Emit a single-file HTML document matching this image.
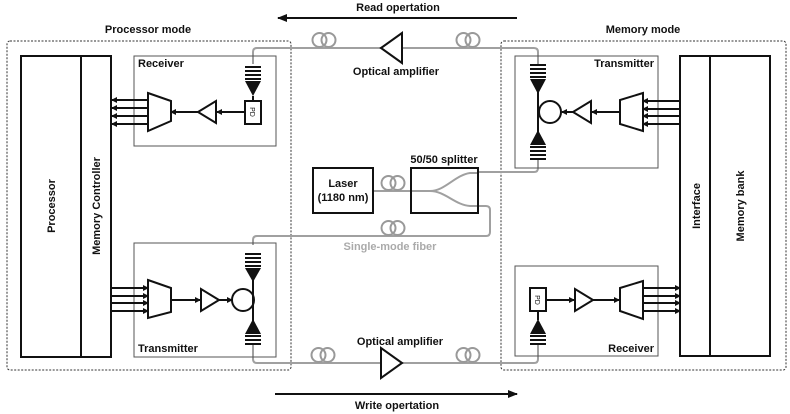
<!DOCTYPE html>
<html><head><meta charset="utf-8"><style>
html,body{margin:0;padding:0;background:#fff}
svg{display:block}
text{font-family:"Liberation Sans",Arial,sans-serif;font-weight:bold;font-size:11px;fill:#111}
</style></head><body>
<svg width="790" height="414" viewBox="0 0 790 414" xmlns="http://www.w3.org/2000/svg">
<defs>
<marker id="ah" markerWidth="6" markerHeight="6" refX="5" refY="3" orient="auto" markerUnits="userSpaceOnUse"><path d="M0,0 L6,3 L0,6 Z" fill="#111"/></marker>
<marker id="bh" markerWidth="10" markerHeight="8" refX="9" refY="4" orient="auto" markerUnits="userSpaceOnUse"><path d="M0,0 L10,4 L0,8 Z" fill="#111"/></marker>
<g id="coil" fill="none" stroke="#999" stroke-width="2"><circle cx="-4.5" cy="0" r="7"/><circle cx="4.5" cy="0" r="7"/></g>
</defs>

<text x="398" y="11" text-anchor="middle">Read opertation</text>
<line x1="517" y1="18" x2="278" y2="18" stroke="#111" stroke-width="2" marker-end="url(#bh)"/>
<text x="397" y="409" text-anchor="middle">Write opertation</text>
<line x1="275" y1="394" x2="517" y2="394" stroke="#111" stroke-width="2" marker-end="url(#bh)"/>

<rect x="7" y="41" width="284" height="329" rx="3" fill="none" stroke="#333" stroke-width="1" stroke-dasharray="2,1.5"/>
<rect x="501" y="41" width="285" height="329" rx="3" fill="none" stroke="#333" stroke-width="1" stroke-dasharray="2,1.5"/>
<text x="148" y="33" text-anchor="middle">Processor mode</text>
<text x="643" y="33" text-anchor="middle">Memory mode</text>

<g fill="none" stroke="#a0a0a0" stroke-width="2">
<path d="M253,64 V52 Q253,48 257,48 H534 Q538,48 538,52 V64"/>
<path d="M253,345 V359 Q253,363 257,363 H534 Q538,363 538,359 V345"/>
<path d="M253,245 V240 Q253,236 257,236 H486 Q490,236 490,232 V210 Q490,206 486,206 H478"/>
<path d="M538,160 V168 Q538,172 534,172 H478"/>
<path d="M373,191 H430 C445,191 455,175 470,173 L478,173"/>
<path d="M430,191 C445,191 455,205 470,206 L478,206"/>
</g>
<use href="#coil" x="324" y="40"/>
<use href="#coil" x="468" y="40"/>
<use href="#coil" x="323" y="355"/>
<use href="#coil" x="468" y="355"/>
<use href="#coil" x="393" y="183"/>
<use href="#coil" x="393" y="228"/>

<path d="M381,48 L402,33 L402,63 Z" fill="#fff" stroke="#111" stroke-width="2"/>
<text x="396" y="75" text-anchor="middle">Optical amplifier</text>
<path d="M402,363 L381,348 L381,378 Z" fill="#fff" stroke="#111" stroke-width="2"/>
<text x="400" y="345" text-anchor="middle">Optical amplifier</text>

<rect x="313" y="168" width="60" height="45" fill="none" stroke="#111" stroke-width="2"/>
<text x="343" y="187" text-anchor="middle">Laser</text>
<text x="343" y="201" text-anchor="middle">(1180 nm)</text>
<rect x="411" y="168" width="67" height="45" fill="none" stroke="#111" stroke-width="2"/>
<text x="444" y="163" text-anchor="middle">50/50 splitter</text>
<text x="390" y="250" text-anchor="middle" style="fill:#aaa">Single-mode fiber</text>

<rect x="21" y="56" width="90" height="301" fill="#fff" stroke="#111" stroke-width="2"/>
<line x1="81" y1="56" x2="81" y2="357" stroke="#111" stroke-width="2"/>
<text transform="translate(55,206) rotate(-90)" text-anchor="middle">Processor</text>
<text transform="translate(100,206) rotate(-90)" text-anchor="middle">Memory Controller</text>

<rect x="680" y="56" width="90" height="300" fill="#fff" stroke="#111" stroke-width="2"/>
<line x1="710" y1="56" x2="710" y2="356" stroke="#111" stroke-width="2"/>
<text transform="translate(700,206) rotate(-90)" text-anchor="middle">Interface</text>
<text transform="translate(744,206) rotate(-90)" text-anchor="middle">Memory bank</text>

<g stroke="#111" stroke-width="2" fill="none">
<rect x="134" y="56" width="142" height="90" stroke="#555" stroke-width="1"/>
<rect x="245" y="101" width="16" height="23" fill="#fff"/>
<line x1="253" y1="96" x2="253" y2="101"/>
<line x1="245" y1="112" x2="217" y2="112" marker-end="url(#ah)"/>
<path d="M198,112 L216,101 L216,123 Z" fill="#fff"/>
<line x1="198" y1="112" x2="171" y2="112" marker-end="url(#ah)"/>
<path d="M148,93 L171,101 L171,121 L148,131 Z" fill="#fff"/>
<line x1="148" y1="100" x2="112" y2="100" marker-end="url(#ah)"/>
<line x1="148" y1="108" x2="112" y2="108" marker-end="url(#ah)"/>
<line x1="148" y1="116" x2="112" y2="116" marker-end="url(#ah)"/>
<line x1="148" y1="124" x2="112" y2="124" marker-end="url(#ah)"/>

<rect x="134" y="243" width="142" height="114" stroke="#555" stroke-width="1"/>
<line x1="112" y1="288" x2="148" y2="288" marker-end="url(#ah)"/>
<line x1="112" y1="296" x2="148" y2="296" marker-end="url(#ah)"/>
<line x1="112" y1="303" x2="148" y2="303" marker-end="url(#ah)"/>
<line x1="112" y1="311" x2="148" y2="311" marker-end="url(#ah)"/>
<path d="M148,280 L171,288 L171,312 L148,318 Z" fill="#fff"/>
<line x1="171" y1="300" x2="200" y2="300" marker-end="url(#ah)"/>
<path d="M219,300 L201,289 L201,311 Z" fill="#fff"/>
<line x1="219" y1="300" x2="232" y2="300" marker-end="url(#ah)"/>
<circle cx="243" cy="300" r="11" fill="#fff"/>
<line x1="253" y1="275" x2="253" y2="325"/>

<rect x="515" y="56" width="143" height="112" stroke="#555" stroke-width="1"/>
<line x1="680" y1="101" x2="643" y2="101" marker-end="url(#ah)"/>
<line x1="680" y1="109" x2="643" y2="109" marker-end="url(#ah)"/>
<line x1="680" y1="116" x2="643" y2="116" marker-end="url(#ah)"/>
<line x1="680" y1="124" x2="643" y2="124" marker-end="url(#ah)"/>
<path d="M643,93 L620,100 L620,124 L643,131 Z" fill="#fff"/>
<line x1="620" y1="112" x2="592" y2="112" marker-end="url(#ah)"/>
<path d="M573,112 L591,101 L591,123 Z" fill="#fff"/>
<line x1="573" y1="112" x2="562" y2="112" marker-end="url(#ah)"/>
<circle cx="550" cy="112" r="11" fill="#fff"/>
<line x1="538" y1="88" x2="538" y2="136"/>

<rect x="515" y="266" width="143" height="90" stroke="#555" stroke-width="1"/>
<rect x="530" y="288" width="16" height="23" fill="#fff"/>
<line x1="538" y1="311" x2="538" y2="320"/>
<line x1="546" y1="300" x2="574" y2="300" marker-end="url(#ah)"/>
<path d="M593,300 L575,289 L575,311 Z" fill="#fff"/>
<line x1="593" y1="300" x2="619" y2="300" marker-end="url(#ah)"/>
<path d="M620,288 L643,281 L643,319 L620,311 Z" fill="#fff"/>
<line x1="643" y1="288" x2="680" y2="288" marker-end="url(#ah)"/>
<line x1="643" y1="296" x2="680" y2="296" marker-end="url(#ah)"/>
<line x1="643" y1="303" x2="680" y2="303" marker-end="url(#ah)"/>
<line x1="643" y1="311" x2="680" y2="311" marker-end="url(#ah)"/>
</g>

<text transform="translate(253,112) rotate(90)" text-anchor="middle" dy="3" style="font-size:7px;font-weight:normal">PD</text>
<text transform="translate(538,300) rotate(90)" text-anchor="middle" dy="3" style="font-size:7px;font-weight:normal">PD</text>

<g fill="#111">
<rect x="245" y="66" width="16" height="2"/><rect x="245" y="70" width="16" height="2"/><rect x="245" y="74" width="16" height="2"/><rect x="245" y="78" width="16" height="2"/>
<path d="M245,81 L261,81 L253,96 Z"/>
<rect x="245" y="253" width="16" height="2"/><rect x="245" y="257" width="16" height="2"/><rect x="245" y="261" width="16" height="2"/><rect x="245" y="265" width="16" height="2"/>
<path d="M245,268 L261,268 L253,282 Z"/>
<path d="M245,334 L261,334 L253,319 Z"/>
<rect x="245" y="335" width="16" height="2"/><rect x="245" y="339" width="16" height="2"/><rect x="245" y="343" width="16" height="2"/>
<rect x="530" y="64" width="16" height="2"/><rect x="530" y="68" width="16" height="2"/><rect x="530" y="72" width="16" height="2"/><rect x="530" y="76" width="16" height="2"/>
<path d="M530,79 L546,79 L538,94 Z"/>
<path d="M530,145 L546,145 L538,130 Z"/>
<rect x="530" y="146" width="16" height="2"/><rect x="530" y="150" width="16" height="2"/><rect x="530" y="154" width="16" height="2"/><rect x="530" y="158" width="16" height="2"/>
<path d="M530,334 L546,334 L538,319 Z"/>
<rect x="530" y="335" width="16" height="2"/><rect x="530" y="339" width="16" height="2"/><rect x="530" y="343" width="16" height="2"/>
</g>

<text x="138" y="67">Receiver</text>
<text x="138" y="352">Transmitter</text>
<text x="654" y="67" text-anchor="end">Transmitter</text>
<text x="654" y="352" text-anchor="end">Receiver</text>
</svg>
</body></html>
